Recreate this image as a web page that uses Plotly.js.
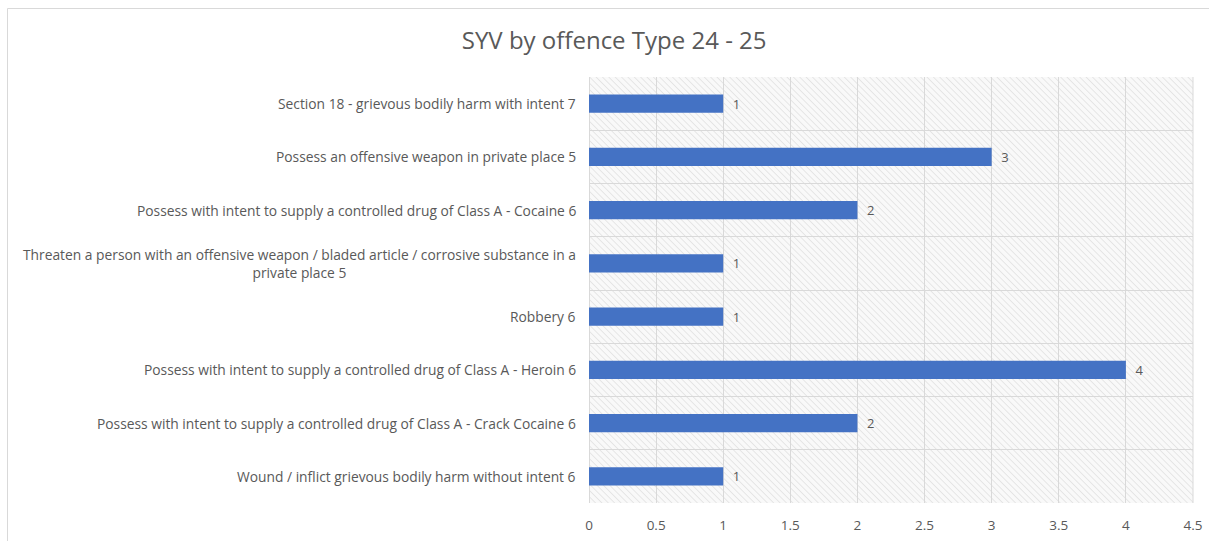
<!DOCTYPE html>
<html>
<head>
<meta charset="utf-8">
<script src="https://cdn.plot.ly/plotly-3.0.1.min.js"></script>
<style>html,body{margin:0;padding:0;background:#fff;}#chart{width:1209px;height:541px;}</style>
</head>
<body>
<div id="chart"></div>
<script>
const categories = [
  "Section 18 - grievous bodily harm with intent 7",
  "Possess an offensive weapon in private place 5",
  "Possess with intent to supply a controlled drug of Class A - Cocaine 6",
  "Threaten a person with an offensive weapon / bladed article / corrosive substance in a<br>private place 5",
  "Robbery 6",
  "Possess with intent to supply a controlled drug of Class A - Heroin 6",
  "Possess with intent to supply a controlled drug of Class A - Crack Cocaine 6",
  "Wound / inflict grievous bodily harm without intent 6"
];
const values = [1, 3, 2, 1, 1, 4, 2, 1];
const xTicks = [0, 0.5, 1, 1.5, 2, 2.5, 3, 3.5, 4, 4.5];
const chartTitle = "SYV by offence Type 24 - 25";

const catIds = categories.map((c, i) => "c" + i);
const FONT = "'Open Sans', Lato, sans-serif";
const GREY = "#595959";

const hatch = "data:image/svg+xml;utf8," + encodeURIComponent(
  '<svg xmlns="http://www.w3.org/2000/svg" width="604" height="426" viewBox="0 0 604 426" preserveAspectRatio="none">' +
  '<defs><pattern id="p" width="4.5" height="4.5" patternUnits="userSpaceOnUse" patternTransform="rotate(-45)">' +
  '<line x1="0" y1="0" x2="0" y2="4.5" stroke="#d9d9d9" stroke-width="1.2"/></pattern></defs>' +
  '<rect width="604" height="426" fill="#f9f9f9"/><rect width="604" height="426" fill="url(#p)"/></svg>');

const trace = {
  type: "bar",
  orientation: "h",
  y: catIds,
  x: values,
  width: 0.34,
  marker: {color: "#4472C4", line: {width: 0}},
  text: values.map(v => "\u2002" + v),
  textposition: "outside",
  textfont: {family: FONT, size: 13, color: GREY},
  cliponaxis: false,
  hoverinfo: "x+y"
};

const annotations = categories.map((c, i) => ({
  xref: "paper", yref: "y", x: 0, y: catIds[i],
  xanchor: "right", yanchor: "middle", xshift: -11,
  text: c, showarrow: false, align: "center",
  font: {family: FONT, size: 13.8, color: GREY}
}));

const layout = {
  width: 1209, height: 541,
  margin: {l: 589, r: 16, t: 77, b: 38},
  paper_bgcolor: "#ffffff",
  plot_bgcolor: "rgba(0,0,0,0)",
  title: {text: chartTitle, x: 0.508, xanchor: "center", y: 0.925, yanchor: "middle",
          font: {family: FONT, size: 24, color: GREY}},
  showlegend: false,
  bargap: 0.66,
  xaxis: {
    range: [0, 4.5], tickvals: xTicks, ticktext: xTicks.map(String),
    showgrid: true, gridcolor: "#d9d9d9", gridwidth: 1,
    zeroline: true, zerolinecolor: "#d9d9d9", zerolinewidth: 1,
    showline: false, ticks: "outside", ticklen: 10, tickcolor: "rgba(0,0,0,0)",
    tickfont: {family: FONT, size: 13.5, color: GREY},
    fixedrange: true
  },
  yaxis: {
    type: "category", autorange: "reversed",
    tickson: "boundaries", showgrid: true, gridcolor: "#d9d9d9", gridwidth: 1,
    showticklabels: false, ticks: "", showline: false, zeroline: false,
    fixedrange: true
  },
  annotations: annotations,
  images: [{
    source: hatch, xref: "paper", yref: "paper", x: 0, y: 1,
    sizex: 1, sizey: 1, xanchor: "left", yanchor: "top",
    sizing: "stretch", layer: "below"
  }],
  shapes: [
    {type: "line", xref: "paper", yref: "paper", x0: 1, x1: 1, y0: 0, y1: 1,
     line: {color: "#d9d9d9", width: 1}},
    {type: "rect", xref: "paper", yref: "paper",
     x0: (7.5 - 589) / 604, x1: (1300 - 589) / 604,
     y0: -(600 - 503) / 426, y1: 1 + (77 - 8.5) / 426,
     line: {color: "#d9d9d9", width: 1}, fillcolor: "rgba(0,0,0,0)", layer: "below"}
  ]
};

Plotly.newPlot("chart", [trace], layout, {displayModeBar: false, staticPlot: true});
</script>
</body>
</html>
